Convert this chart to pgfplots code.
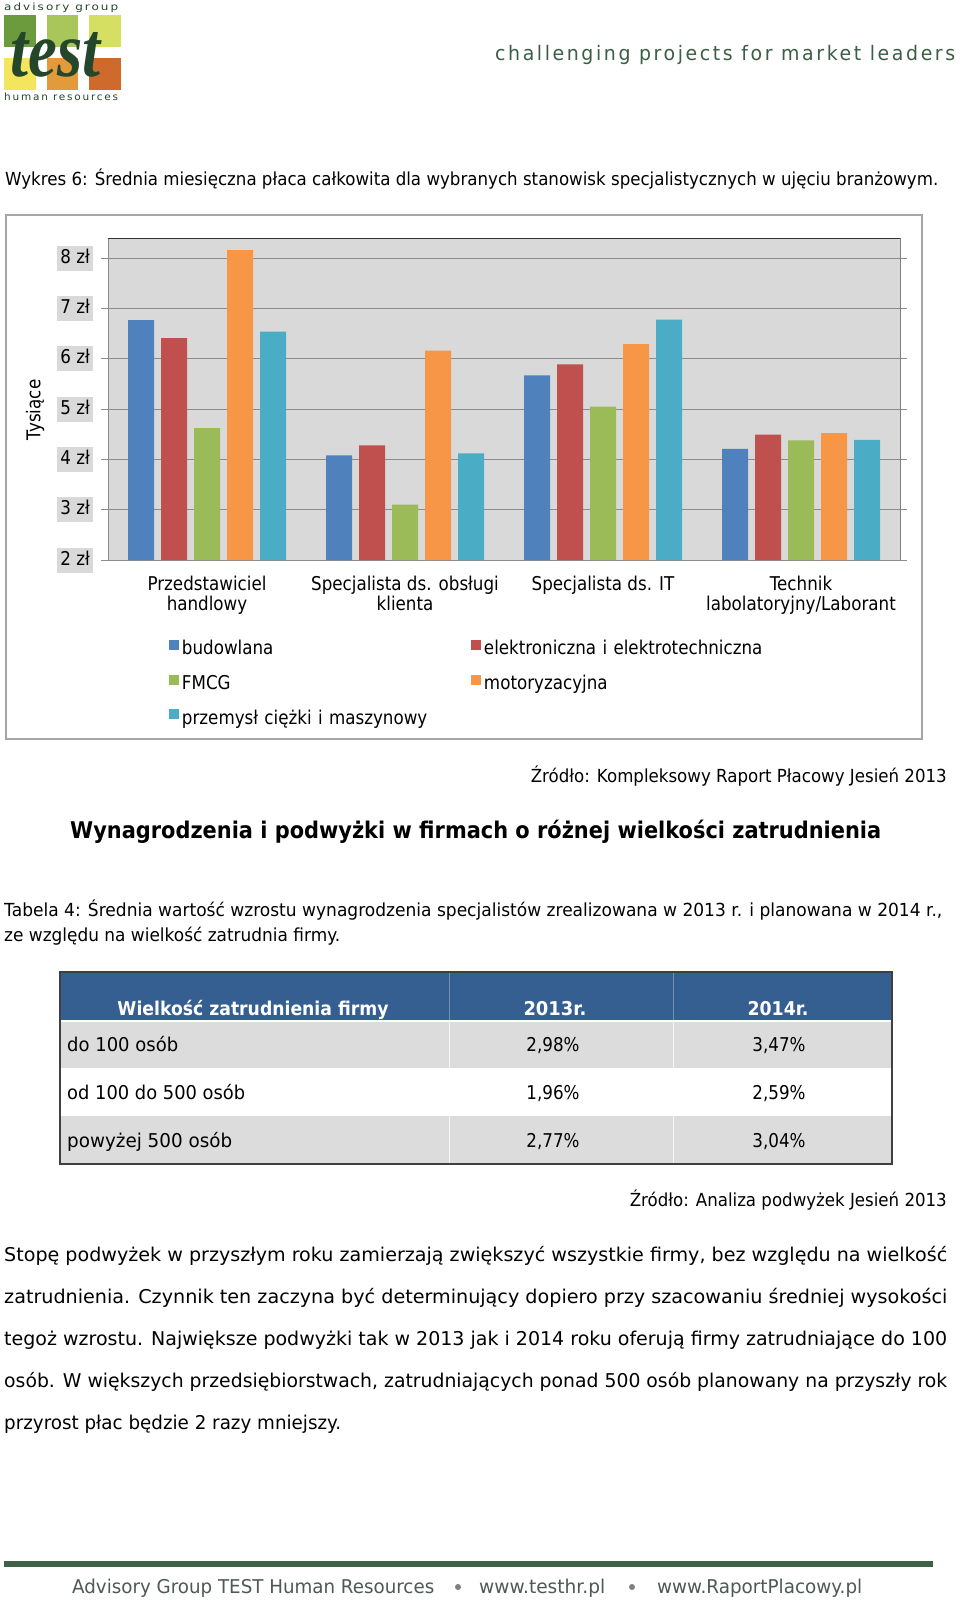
\documentclass[border=0pt]{standalone}
\usepackage{pgfplots}
\pgfplotsset{compat=1.18}
\usepackage{pgfplotstable}
\usepackage{graphicx}
\usepackage{fontspec}
\setmainfont{DejaVu Sans}[FakeStretch=0.88]
\newfontfamily\logofont{Liberation Serif}
\definecolor{cBlue}{HTML}{4F81BD}
\definecolor{cRed}{HTML}{C0504D}
\definecolor{cGreen}{HTML}{9BBB59}
\definecolor{cOrange}{HTML}{F79646}
\definecolor{cCyan}{HTML}{4BACC6}
\definecolor{plotbg}{HTML}{D9D9D9}
\definecolor{gridc}{HTML}{8C8C8C}
\definecolor{framec}{HTML}{A6A6A6}
\definecolor{hdrblue}{HTML}{365F91}
\definecolor{rowgray}{HTML}{DCDCDC}
\definecolor{dkgreen}{HTML}{24472C}
\definecolor{slogan}{HTML}{3B5E44}
\definecolor{footgreen}{HTML}{3E6148}
\definecolor{foottext}{HTML}{4D5A52}
\definecolor{lg1}{HTML}{6B9B3D}
\definecolor{lg2}{HTML}{A9C65B}
\definecolor{lg3}{HTML}{D5E063}
\definecolor{lg4}{HTML}{F3E55C}
\definecolor{lg5}{HTML}{E29A3C}
\definecolor{lg6}{HTML}{CF6A2C}
\newcommand\fs[1]{\fontsize{#1}{#1}\selectfont}
\newcommand\fitw[2]{\resizebox{#1}{\height}{#2}}

\pgfplotstableread{
cat bud ele fmcg moto prz
0 6.77 6.41 4.62 8.16 6.54
1 4.08 4.28 3.10 6.16 4.12
2 5.67 5.89 5.05 6.29 6.78
3 4.21 4.49 4.38 4.52 4.39
}\datatable

\begin{document}
\begin{tikzpicture}
\begin{scope}[x=1pt,y=-1pt]
\path[use as bounding box, fill=white] (0,0) rectangle (960,1603);
% logo
\fill[lg1] (4,15) rectangle (36,47);
\fill[lg2] (47,15) rectangle (78,47);
\fill[lg3] (89,15) rectangle (121,47);
\fill[lg4] (4,58) rectangle (36,90);
\fill[lg5] (47,58) rectangle (78,90);
\fill[lg6] (89,58) rectangle (121,90);
\node[anchor=base west, inner sep=0, text=dkgreen] at (10,77) {\resizebox{90pt}{44pt}{\logofont\bfseries\itshape test}};
\node[anchor=mid west, inner sep=0, text=dkgreen] at (4,8) {\fitw{114pt}{\fs{10}\addfontfeature{LetterSpace=15}advisory group}};
\node[anchor=mid west, inner sep=0, text=dkgreen] at (4,98) {\fitw{114pt}{\fs{10}\addfontfeature{LetterSpace=15}human resources}};
\begin{scope}[yshift=-5pt]
\node[anchor=mid west, inner sep=0, text=slogan] at (495,53) {\fitw{460pt}{\fs{20}\addfontfeature{LetterSpace=12}challenging projects for market leaders}};
% caption
\node[anchor=mid west, inner sep=0] at (5,178) {\fitw{933pt}{\fs{18}Wykres 6: Średnia miesięczna płaca całkowita dla wybranych stanowisk specjalistycznych w ujęciu branżowym.}};
% sources and heading
\node[anchor=mid east, inner sep=0] at (947,775) {\fitw{416pt}{\fs{18}Źródło: Kompleksowy Raport Płacowy Jesień 2013}};
\node[anchor=mid west, inner sep=0] at (70,831) {\fitw{811pt}{\fs{23}\bfseries Wynagrodzenia i podwyżki w firmach o różnej wielkości zatrudnienia}};
\node[anchor=mid west, inner sep=0] at (4,909) {\fitw{938pt}{\fs{18}Tabela 4: Średnia wartość wzrostu wynagrodzenia specjalistów zrealizowana w 2013 r. i planowana w 2014 r.,}};
\node[anchor=mid west, inner sep=0] at (4,934) {\fitw{336pt}{\fs{18}ze względu na wielkość zatrudnia firmy.}};
\end{scope}
% chart frame
\draw[framec, line width=2pt] (6,215) rectangle (922,739);
% table
\fill[hdrblue] (60,972) rectangle (892,1021);
\fill[rowgray] (60,1021) rectangle (892,1068);
\fill[white] (60,1068) rectangle (892,1116);
\fill[rowgray] (60,1116) rectangle (892,1164);
\draw[hdrblue!70!white, line width=1pt] (449,972) -- (449,1021) (673,972) -- (673,1021);
\draw[white!92!gray, line width=1pt] (449,1021) -- (449,1068) (673,1021) -- (673,1068) (449,1116) -- (449,1164) (673,1116) -- (673,1164);
\draw[white, line width=1.5pt] (60,1021) -- (892,1021);
\draw[black!75, line width=1.5pt] (60,972) rectangle (892,1164);
\begin{scope}[yshift=-4pt]
\node[anchor=mid, inner sep=0, text=white] at (253,1009) {\fitw{271pt}{\fs{19}\bfseries Wielkość zatrudnienia firmy}};
\node[anchor=mid, inner sep=0, text=white] at (555,1009) {\fitw{63pt}{\fs{19}\bfseries 2013r.}};
\node[anchor=mid, inner sep=0, text=white] at (778,1009) {\fitw{61pt}{\fs{19}\bfseries 2014r.}};
\node[anchor=mid west, inner sep=0] at (67,1045) {\fitw{111pt}{\fs{19}do 100 osób}};
\node[anchor=mid west, inner sep=0] at (67,1093) {\fitw{178pt}{\fs{19}od 100 do 500 osób}};
\node[anchor=mid west, inner sep=0] at (67,1141) {\fitw{165pt}{\fs{19}powyżej 500 osób}};
\node[anchor=mid, inner sep=0] at (553,1045) {\fs{19}2,98\%};
\node[anchor=mid, inner sep=0] at (779,1045) {\fs{19}3,47\%};
\node[anchor=mid, inner sep=0] at (553,1093) {\fs{19}1,96\%};
\node[anchor=mid, inner sep=0] at (779,1093) {\fs{19}2,59\%};
\node[anchor=mid, inner sep=0] at (553,1141) {\fs{19}2,77\%};
\node[anchor=mid, inner sep=0] at (779,1141) {\fs{19}3,04\%};
\end{scope}
\begin{scope}[yshift=-5pt]
\node[anchor=mid east, inner sep=0] at (947,1199) {\fitw{317pt}{\fs{18}Źródło: Analiza podwyżek Jesień 2013}};
% paragraph
\node[anchor=mid west, inner sep=0] at (4,1254) {\fitw{943pt}{\fs{19}Stopę podwyżek w przyszłym roku zamierzają zwiększyć wszystkie firmy, bez względu na wielkość}};
\node[anchor=mid west, inner sep=0] at (4,1296) {\fitw{943pt}{\fs{19}zatrudnienia. Czynnik ten zaczyna być determinujący dopiero przy szacowaniu średniej wysokości}};
\node[anchor=mid west, inner sep=0] at (4,1338) {\fitw{943pt}{\fs{19}tegoż wzrostu. Największe podwyżki tak w 2013 jak i 2014 roku oferują firmy zatrudniające do 100}};
\node[anchor=mid west, inner sep=0] at (4,1380) {\fitw{943pt}{\fs{19}osób. W większych przedsiębiorstwach, zatrudniających ponad 500 osób planowany na przyszły rok}};
\node[anchor=mid west, inner sep=0] at (4,1422) {\fitw{337pt}{\fs{19}przyrost płac będzie 2 razy mniejszy.}};
% footer text
\node[anchor=mid west, inner sep=0, text=foottext] at (72,1586) {\fitw{362pt}{\fs{19}Advisory Group TEST Human Resources}};
\node[anchor=mid west, inner sep=0, text=foottext] at (479,1586) {\fitw{126pt}{\fs{19}www.testhr.pl}};
\node[anchor=mid west, inner sep=0, text=foottext] at (657,1586) {\fitw{205pt}{\fs{19}www.RaportPlacowy.pl}};
\end{scope}
\fill[footgreen] (4,1561) rectangle (933,1567);
\fill[gray] (458,1587) circle (3);
\fill[gray] (632,1587) circle (3);
\end{scope}

\begin{axis}[
  at={(108pt,-560pt)}, anchor=south west,
  scale only axis, width=792pt, height=322pt,
  xmin=-0.5, xmax=3.5, ymin=2, ymax=8.4,
  ybar=7pt, bar width=26pt,
  xtick={0,1,2,3},
  xticklabels={{Przedstawiciel\\handlowy},{Specjalista ds. obsługi\\klienta},{Specjalista ds. IT},{Technik\\labolatoryjny/Laborant}},
  x tick label style={font=\fontsize{19}{20}\selectfont, align=center, anchor=north, inner sep=0pt, yshift=-9pt},
  ytick={2,3,4,5,6,7,8},
  yticklabels={2 zł,3 zł,4 zł,5 zł,6 zł,7 zł,8 zł},
  y tick label style={font=\fs{19}, fill=plotbg, inner xsep=3pt, inner ysep=3.5pt, text height=14pt, text depth=4pt, xshift=-8pt},
  tick align=outside, major tick length=7pt,
  xtick style={draw=none},
  ytick style={draw=gridc, line width=1pt},
  ymajorgrids, grid style={draw=gridc, line width=1pt},
  axis background/.style={fill=plotbg},
  axis line style={draw=gridc, line width=1pt},
  ylabel={Tysiące},
  ylabel style={font=\fs{19}, at={(axis description cs:-0.092,0.466)}, anchor=center},
  legend columns=2, legend cell align=left,
  legend image code/.code={\fill[#1, draw=none] (0pt,0.2pt) rectangle (10pt,10.2pt);},
  legend style={draw=none, fill=none, at={(axis description cs:0.077,-0.2484)}, anchor=north west,
    inner sep=0pt, outer sep=0pt, font=\fs{19}, row sep=15pt,
    nodes={inner sep=0pt, text width=285pt, text height=14pt, text depth=5pt, align=left},
    /tikz/every odd column/.append style={column sep=3pt},
    /tikz/every even column/.append style={column sep=4pt}},
]
\addplot[fill=cBlue, draw=none] table[x=cat, y=bud] {\datatable};
\addlegendentry{budowlana}
\addplot[fill=cRed, draw=none] table[x=cat, y=ele] {\datatable};
\addlegendentry{elektroniczna i elektrotechniczna}
\addplot[fill=cGreen, draw=none] table[x=cat, y=fmcg] {\datatable};
\addlegendentry{FMCG}
\addplot[fill=cOrange, draw=none] table[x=cat, y=moto] {\datatable};
\addlegendentry{motoryzacyjna}
\addplot[fill=cCyan, draw=none] table[x=cat, y=prz] {\datatable};
\addlegendentry{przemysł ciężki i maszynowy}
\draw[black!80, line width=1pt] (rel axis cs:0,1) -- (rel axis cs:1,1) -- (rel axis cs:1,0);
\end{axis}
\end{tikzpicture}
\end{document}
